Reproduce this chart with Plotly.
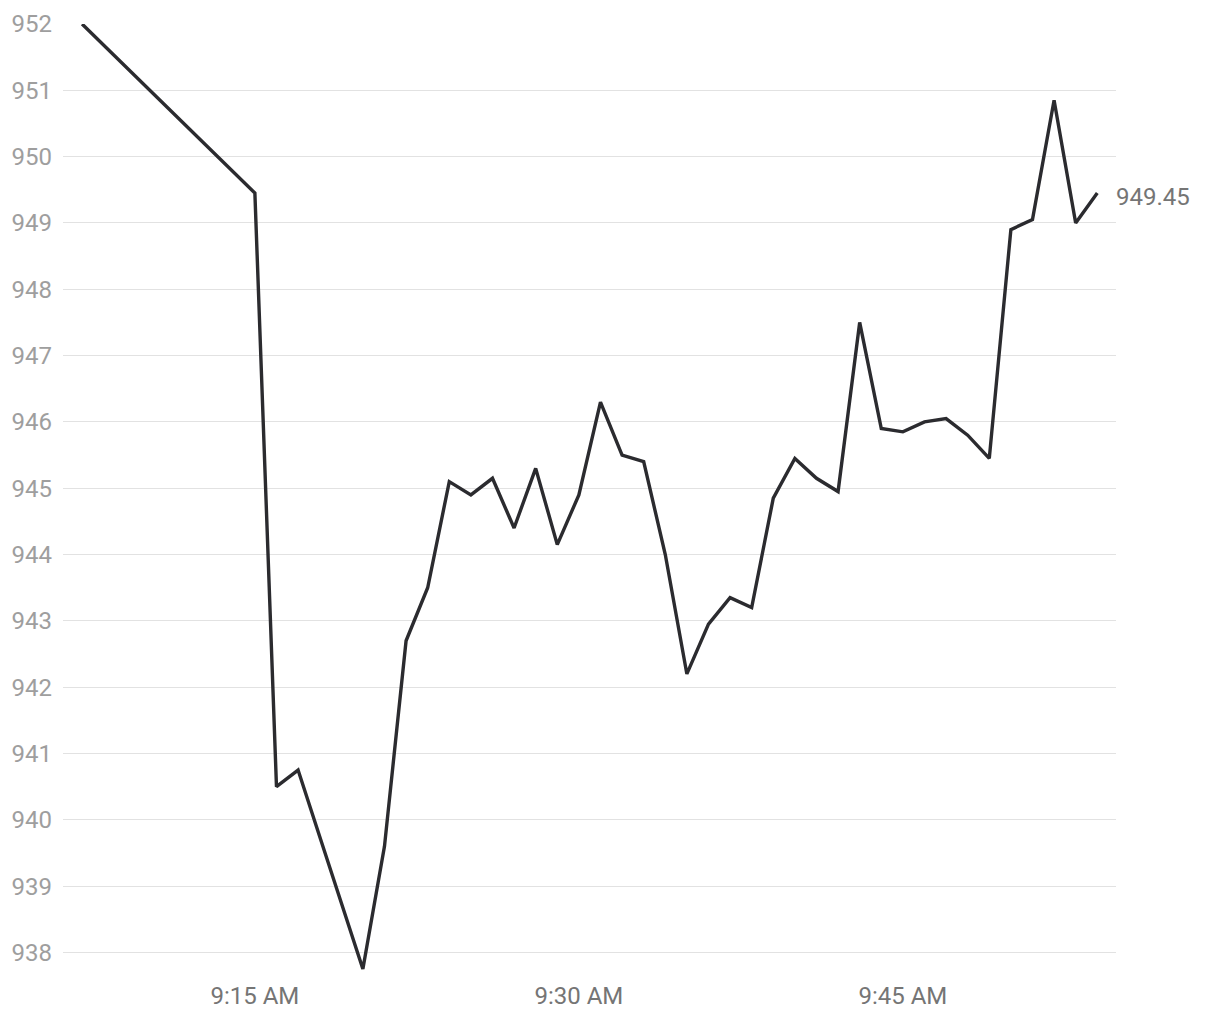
import plotly.graph_objects as go

# minute bars, one session
times = [
    "09:07", "09:15", "09:16", "09:17", "09:18", "09:19", "09:20", "09:21",
    "09:22", "09:23", "09:24", "09:25", "09:26", "09:27", "09:28", "09:29",
    "09:30", "09:31", "09:32", "09:33", "09:34", "09:35", "09:36", "09:37",
    "09:38", "09:39", "09:40", "09:41", "09:42", "09:43", "09:44", "09:45",
    "09:46", "09:47", "09:48", "09:49", "09:50", "09:51", "09:52", "09:53",
    "09:54",
]
prices = [
    952.0, 949.45, 940.5, 940.75, 939.75, 938.75, 937.75, 939.6,
    942.7, 943.5, 945.1, 944.9, 945.15, 944.4, 945.3, 944.15,
    944.9, 946.3, 945.5, 945.4, 944.0, 942.2, 942.95, 943.35,
    943.2, 944.85, 945.45, 945.15, 944.95, 947.5, 945.9, 945.85,
    946.0, 946.05, 945.8, 945.45, 948.9, 949.05, 950.85, 949.0,
    949.45,
]
day = "2024-01-02"
x_range = [day + " 09:06:07", day + " 09:54:52"]
y_range = [937.6, 952.0]

x = [day + " " + t + ":00" for t in times]

fig = go.Figure()
fig.add_trace(go.Scatter(
    x=x, y=prices, mode="lines",
    line=dict(color="#2b2b2f", width=3.4),
    hoverinfo="x+y",
))

# last price label to the right of the plot
fig.add_annotation(
    xref="paper", x=1, y=prices[-1],
    text=f"{prices[-1]:.2f}", showarrow=False,
    xanchor="left", yanchor="middle", xshift=-2, yshift=-4,
    font=dict(size=24, color="#757575"),
)

# page body adds an 8px offset, so the figure is a bit smaller than the window
fig.update_layout(
    width=1204, height=1004,
    margin=dict(l=55, r=96, t=16, b=33),
    plot_bgcolor="white", paper_bgcolor="white",
    font=dict(family="Roboto", size=24),
    showlegend=False,
)
fig.update_xaxes(
    type="date", range=x_range, automargin=False,
    tick0=day + " 09:00", dtick=15 * 60 * 1000,
    tickformat="%-I:%M %p",
    showgrid=False, zeroline=False, showline=False, ticks="",
    tickfont=dict(color="#757575", size=24),
)
fig.update_yaxes(
    range=y_range, dtick=1, tick0=938, automargin=False,
    showgrid=True, gridcolor="#e2e2e2", gridwidth=1.4,
    zeroline=False, showline=False, ticks="",
    ticklabelstandoff=10,
    tickfont=dict(color="#9e9e9e", size=24),
)

fig.write_html("out.html")
